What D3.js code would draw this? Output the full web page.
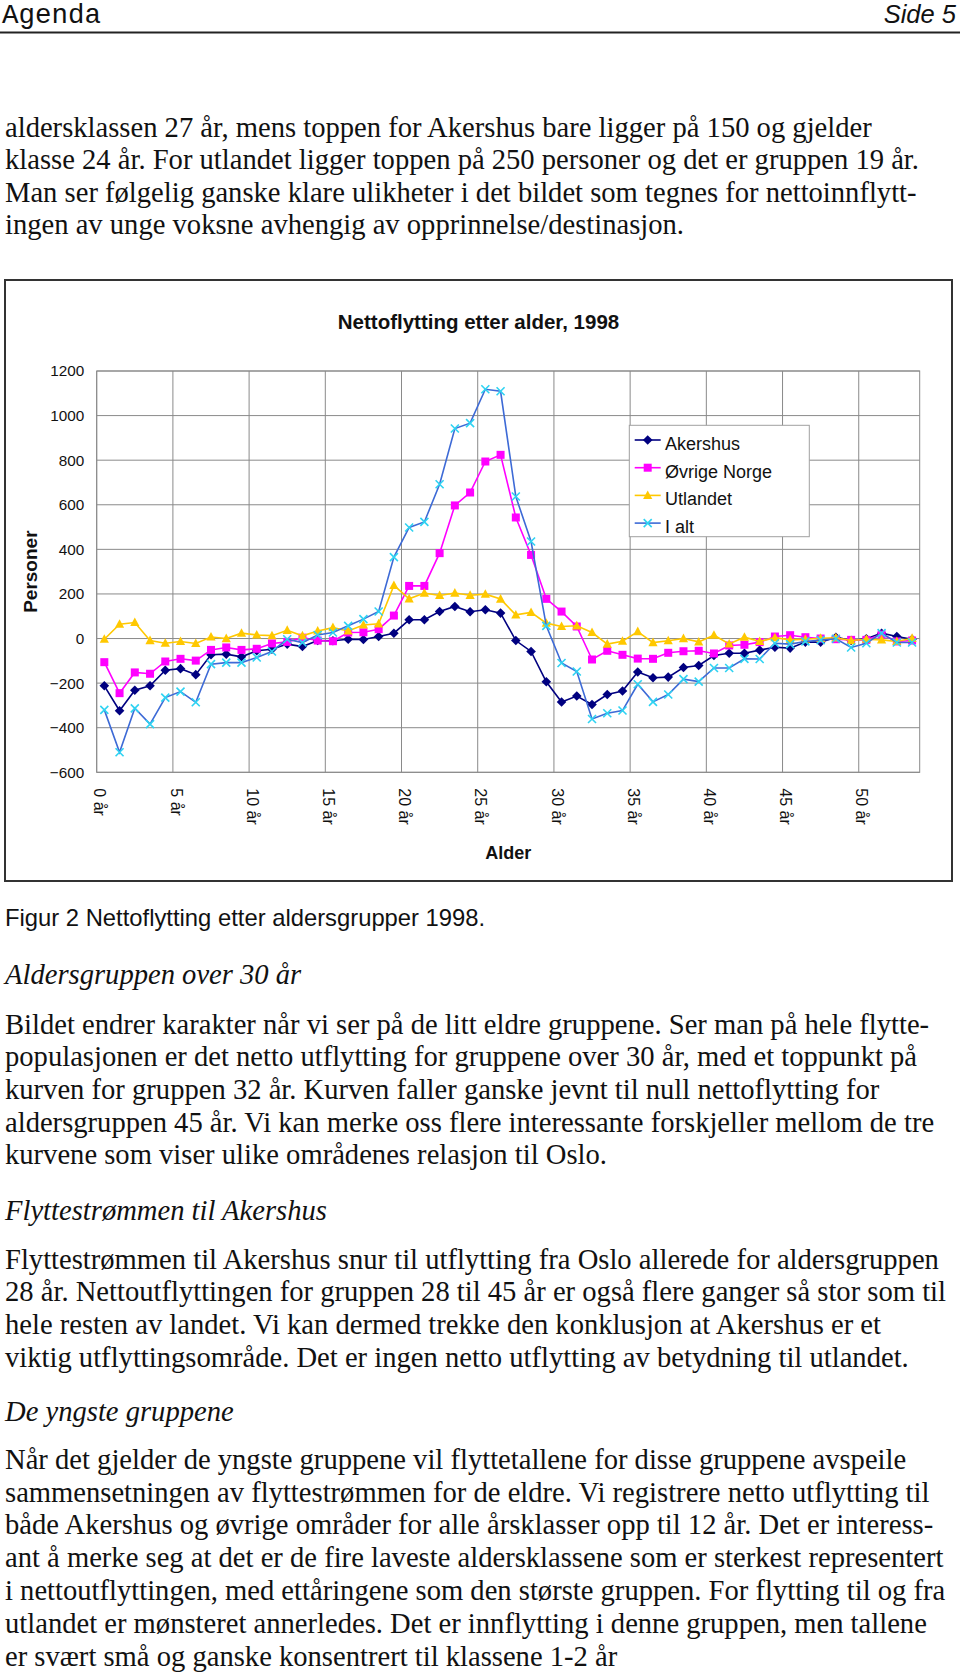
<!DOCTYPE html>
<html><head><meta charset="utf-8">
<script src="https://cdn.jsdelivr.net/npm/d3@7"></script>
<style>body{margin:0;background:#fff}</style>
</head><body><svg id="page" width="960" height="1672"></svg>
<script>
// ---------- data ----------
const ages = [0,1,2,3,4,5,6,7,8,9,10,11,12,13,14,15,16,17,18,19,20,21,22,23,24,25,26,27,28,29,30,31,32,33,34,35,36,37,38,39,40,41,42,43,44,45,46,47,48,49,50,51,52,53];
const tickAges = [0,5,10,15,20,25,30,35,40,45,50];
const tickLabels = ["0 år","5 år","10 år","15 år","20 år","25 år","30 år","35 år","40 år","45 år","50 år"];
const yTicks = [-600,-400,-200,0,200,400,600,800,1000,1200];

const akershus = [-212,-324,-232,-212,-142,-135,-162,-73,-70,-82,-55,-48,-25,-36,-9,-10,-3,-4,9,24,84,84,121,144,120,129,114,-9,-58,-194,-285,-258,-296,-251,-235,-150,-176,-173,-130,-121,-76,-66,-66,-52,-39,-43,-16,-16,6,-9,-1,24,9,-3];
const ovrigeNorge = [-106,-245,-152,-158,-103,-91,-99,-51,-40,-51,-46,-22,-15,4,-9,-12,27,28,42,103,236,236,383,597,655,794,824,543,375,178,121,54,-94,-55,-73,-90,-91,-64,-57,-55,-67,-31,-28,-16,9,15,6,0,-3,-6,-6,18,-13,-9];
const utlandet = [-3,64,72,-9,-21,-13,-22,7,0,24,16,13,37,12,34,49,34,61,66,238,178,204,193,204,194,199,177,106,117,69,54,57,27,-25,-12,31,-18,-10,0,-15,15,-24,6,-13,4,-6,-3,1,3,-9,-3,-6,-13,1];
const iAlt = [-320,-510,-313,-384,-265,-238,-286,-115,-108,-108,-85,-58,-3,-18,16,27,57,87,121,365,498,523,692,942,966,1118,1109,637,435,57,-110,-148,-361,-335,-323,-205,-284,-251,-182,-193,-132,-132,-91,-92,-21,-25,-13,-7,-1,-40,-21,24,-18,-18];

const seriesNames = ["Akershus","Øvrige Norge","Utlandet","I alt"];
const seriesValues = [akershus, ovrigeNorge, utlandet, iAlt];

const chartTitle = "Nettoflytting etter alder, 1998";
const yTitle = "Personer";
const xTitle = "Alder";

const header = ["Agenda","Side 5"];
const para1 = [
"aldersklassen 27 år, mens toppen for Akershus bare ligger på 150 og gjelder",
"klasse 24 år. For utlandet ligger toppen på 250 personer og det er gruppen 19 år.",
"Man ser følgelig ganske klare ulikheter i det bildet som tegnes for nettoinnflytt-",
"ingen av unge voksne avhengig av opprinnelse/destinasjon."];
const caption = "Figur 2 Nettoflytting etter aldersgrupper 1998.";
const heading1 = "Aldersgruppen over 30 år";
const para2 = [
"Bildet endrer karakter når vi ser på de litt eldre gruppene. Ser man på hele flytte-",
"populasjonen er det netto utflytting for gruppene over 30 år, med et toppunkt på",
"kurven for gruppen 32 år. Kurven faller ganske jevnt til null nettoflytting for",
"aldersgruppen 45 år. Vi kan merke oss flere interessante forskjeller mellom de tre",
"kurvene som viser ulike områdenes relasjon til Oslo."];
const heading2 = "Flyttestrømmen til Akershus";
const para3 = [
"Flyttestrømmen til Akershus snur til utflytting fra Oslo allerede for aldersgruppen",
"28 år. Nettoutflyttingen for gruppen 28 til 45 år er også flere ganger så stor som til",
"hele resten av landet. Vi kan dermed trekke den konklusjon at Akershus er et",
"viktig utflyttingsområde. Det er ingen netto utflytting av betydning til utlandet."];
const heading3 = "De yngste gruppene";
const para4 = [
"Når det gjelder de yngste gruppene vil flyttetallene for disse gruppene avspeile",
"sammensetningen av flyttestrømmen for de eldre. Vi registrere netto utflytting til",
"både Akershus og øvrige områder for alle årsklasser opp til 12 år. Det er interess-",
"ant å merke seg at det er de fire laveste aldersklassene som er sterkest representert",
"i nettoutflyttingen, med ettåringene som den største gruppen. For flytting til og fra",
"utlandet er mønsteret annerledes. Det er innflytting i denne gruppen, men tallene",
"er svært små og ganske konsentrert til klassene 1-2 år"];

// ---------- styles ----------
const SERIF = '"Liberation Serif","Times New Roman",serif';
const SANS = '"Liberation Sans",Arial,sans-serif';
const MONO = '"Liberation Mono","Courier New",monospace';
const colors = ["#000080","#FF00FF","#FFC800","#3D6AD6"];
const markerColors = ["#000080","#FF00FF","#FFC800","#2ED3F2"];

const svg = d3.select('#page');
svg.append('rect').attr('width',960).attr('height',1672).attr('fill','#fff');

// ---------- page header ----------
svg.append('text').attr('x',2).attr('y',22.5).attr('font-family',MONO).attr('font-size',27.5).attr('fill','#111').text(header[0]);
svg.append('text').attr('x',956).attr('y',22.5).attr('text-anchor','end').attr('font-family',SANS)
  .attr('font-style','italic').attr('font-size',25.5).attr('fill','#111').text(header[1]);
svg.append('line').attr('x1',0).attr('x2',960).attr('y1',32.5).attr('y2',32.5).attr('stroke','#222').attr('stroke-width',2);

function block(lines, y0, opts={}) {
  svg.append('g').selectAll('text').data(lines).join('text')
    .attr('x',5).attr('y',(d,i)=>y0 + i*(opts.lh||32.5))
    .attr('font-family',opts.family||SERIF)
    .attr('font-size',opts.size||28.6)
    .attr('font-style',opts.italic?'italic':'normal')
    .attr('fill','#111')
    .text(d=>d);
}
block(para1, 136.7);
block([caption], 926, {family:SANS, size:23.8});
block([heading1], 983.7, {italic:true});
block(para2, 1033.7, {lh:32.6});
block([heading2], 1220.3, {italic:true});
block(para3, 1268.7, {lh:32.6});
block([heading3], 1421.3, {italic:true});
block(para4, 1468.7, {lh:32.8});

// ---------- chart ----------
svg.append('rect').attr('x',5).attr('y',280).attr('width',947).attr('height',601)
  .attr('fill','#fff').attr('stroke','#333').attr('stroke-width',2);

const x = d3.scaleBand().domain(ages).range([96.7,919.7]).padding(0);
const y = d3.scaleLinear().domain([-600,1200]).range([772.3,371]);
const cx = a => x(a) + x.bandwidth()/2;

const grid = svg.append('g');
grid.selectAll('line.h').data(yTicks).join('line').attr('class','h')
  .attr('x1',x.range()[0]).attr('x2',x.range()[1]).attr('y1',d=>y(d)).attr('y2',d=>y(d))
  .attr('stroke','#8a8a8a').attr('stroke-width',1);
grid.selectAll('line.v').data(tickAges).join('line').attr('class','v')
  .attr('x1',d=>x(d)).attr('x2',d=>x(d)).attr('y1',y(1200)).attr('y2',y(-600))
  .attr('stroke','#8a8a8a').attr('stroke-width',1);
grid.append('rect').attr('x',x.range()[0]).attr('y',y(1200))
  .attr('width',x.range()[1]-x.range()[0]).attr('height',y(-600)-y(1200))
  .attr('fill','none').attr('stroke','#8a8a8a').attr('stroke-width',1);

// y axis
const yAxis = svg.append('g').attr('transform',`translate(${x.range()[0]},0)`)
  .call(d3.axisLeft(y).tickValues(yTicks).tickSize(0).tickPadding(12.4).tickFormat(d3.format('d')));
yAxis.select('.domain').remove();
yAxis.selectAll('text').attr('font-family',SANS).attr('font-size',15.3).attr('fill','#111');

// x axis
const xAxis = svg.append('g').attr('transform',`translate(0,${y(-600)})`)
  .call(d3.axisBottom(x).tickValues(tickAges).tickSize(0).tickFormat((d)=>tickLabels[tickAges.indexOf(d)]));
xAxis.select('.domain').remove();
xAxis.selectAll('text').attr('x',0).attr('y',0).attr('dy',0).attr('text-anchor','start')
  .attr('transform','translate(-10,16) rotate(90)')
  .attr('font-family',SANS).attr('font-size',16).attr('fill','#111');

// titles
svg.append('text').attr('x',478.5).attr('y',329).attr('text-anchor','middle').attr('font-family',SANS)
  .attr('font-weight','bold').attr('font-size',20.5).attr('fill','#111').text(chartTitle);
svg.append('text').attr('transform',`translate(36.5,${(y(1200)+y(-600))/2}) rotate(-90)`).attr('text-anchor','middle')
  .attr('font-family',SANS).attr('font-weight','bold').attr('font-size',19).attr('fill','#111').text(yTitle);
svg.append('text').attr('x',(x.range()[0]+x.range()[1])/2).attr('y',859).attr('text-anchor','middle')
  .attr('font-family',SANS).attr('font-weight','bold').attr('font-size',18).attr('fill','#111').text(xTitle);

// markers
function drawMarker(g, k) {
  if (k===0) g.append('path').attr('d','M0,-4.8L4.8,0L0,4.8L-4.8,0Z').attr('fill',markerColors[0]);
  else if (k===1) g.append('rect').attr('x',-4).attr('y',-4).attr('width',8).attr('height',8).attr('fill',markerColors[1]);
  else if (k===2) g.append('path').attr('d','M0,-5L4.6,3.6L-4.6,3.6Z').attr('fill',markerColors[2]);
  else g.append('path').attr('d','M-4,-4L4,4M-4,4L4,-4').attr('stroke',markerColors[3]).attr('stroke-width',1.6).attr('fill','none');
}

const line = d3.line().x((d,i)=>cx(ages[i])).y(d=>y(d));
seriesValues.forEach((vals,k)=>{
  const g = svg.append('g');
  g.append('path').attr('d',line(vals)).attr('fill','none').attr('stroke',colors[k]).attr('stroke-width',1.6);
  vals.forEach((v,i)=>{
    const mg = g.append('g').attr('transform',`translate(${cx(ages[i])},${y(v)})`);
    drawMarker(mg,k);
  });
});

// legend
const lg = svg.append('g');
lg.append('rect').attr('x',629.3).attr('y',425.3).attr('width',180).attr('height',111.4)
  .attr('fill','#fff').attr('stroke','#a0a0a0').attr('stroke-width',1);
seriesNames.forEach((name,k)=>{
  const ly = 440 + k*27.7;
  lg.append('line').attr('x1',634.7).attr('x2',660.7).attr('y1',ly).attr('y2',ly).attr('stroke',colors[k]).attr('stroke-width',1.6);
  drawMarker(lg.append('g').attr('transform',`translate(647.7,${ly})`),k);
  lg.append('text').attr('x',665).attr('y',ly+10).attr('font-family',SANS).attr('font-size',18).attr('fill','#111').text(name);
});
</script>
</body></html>
